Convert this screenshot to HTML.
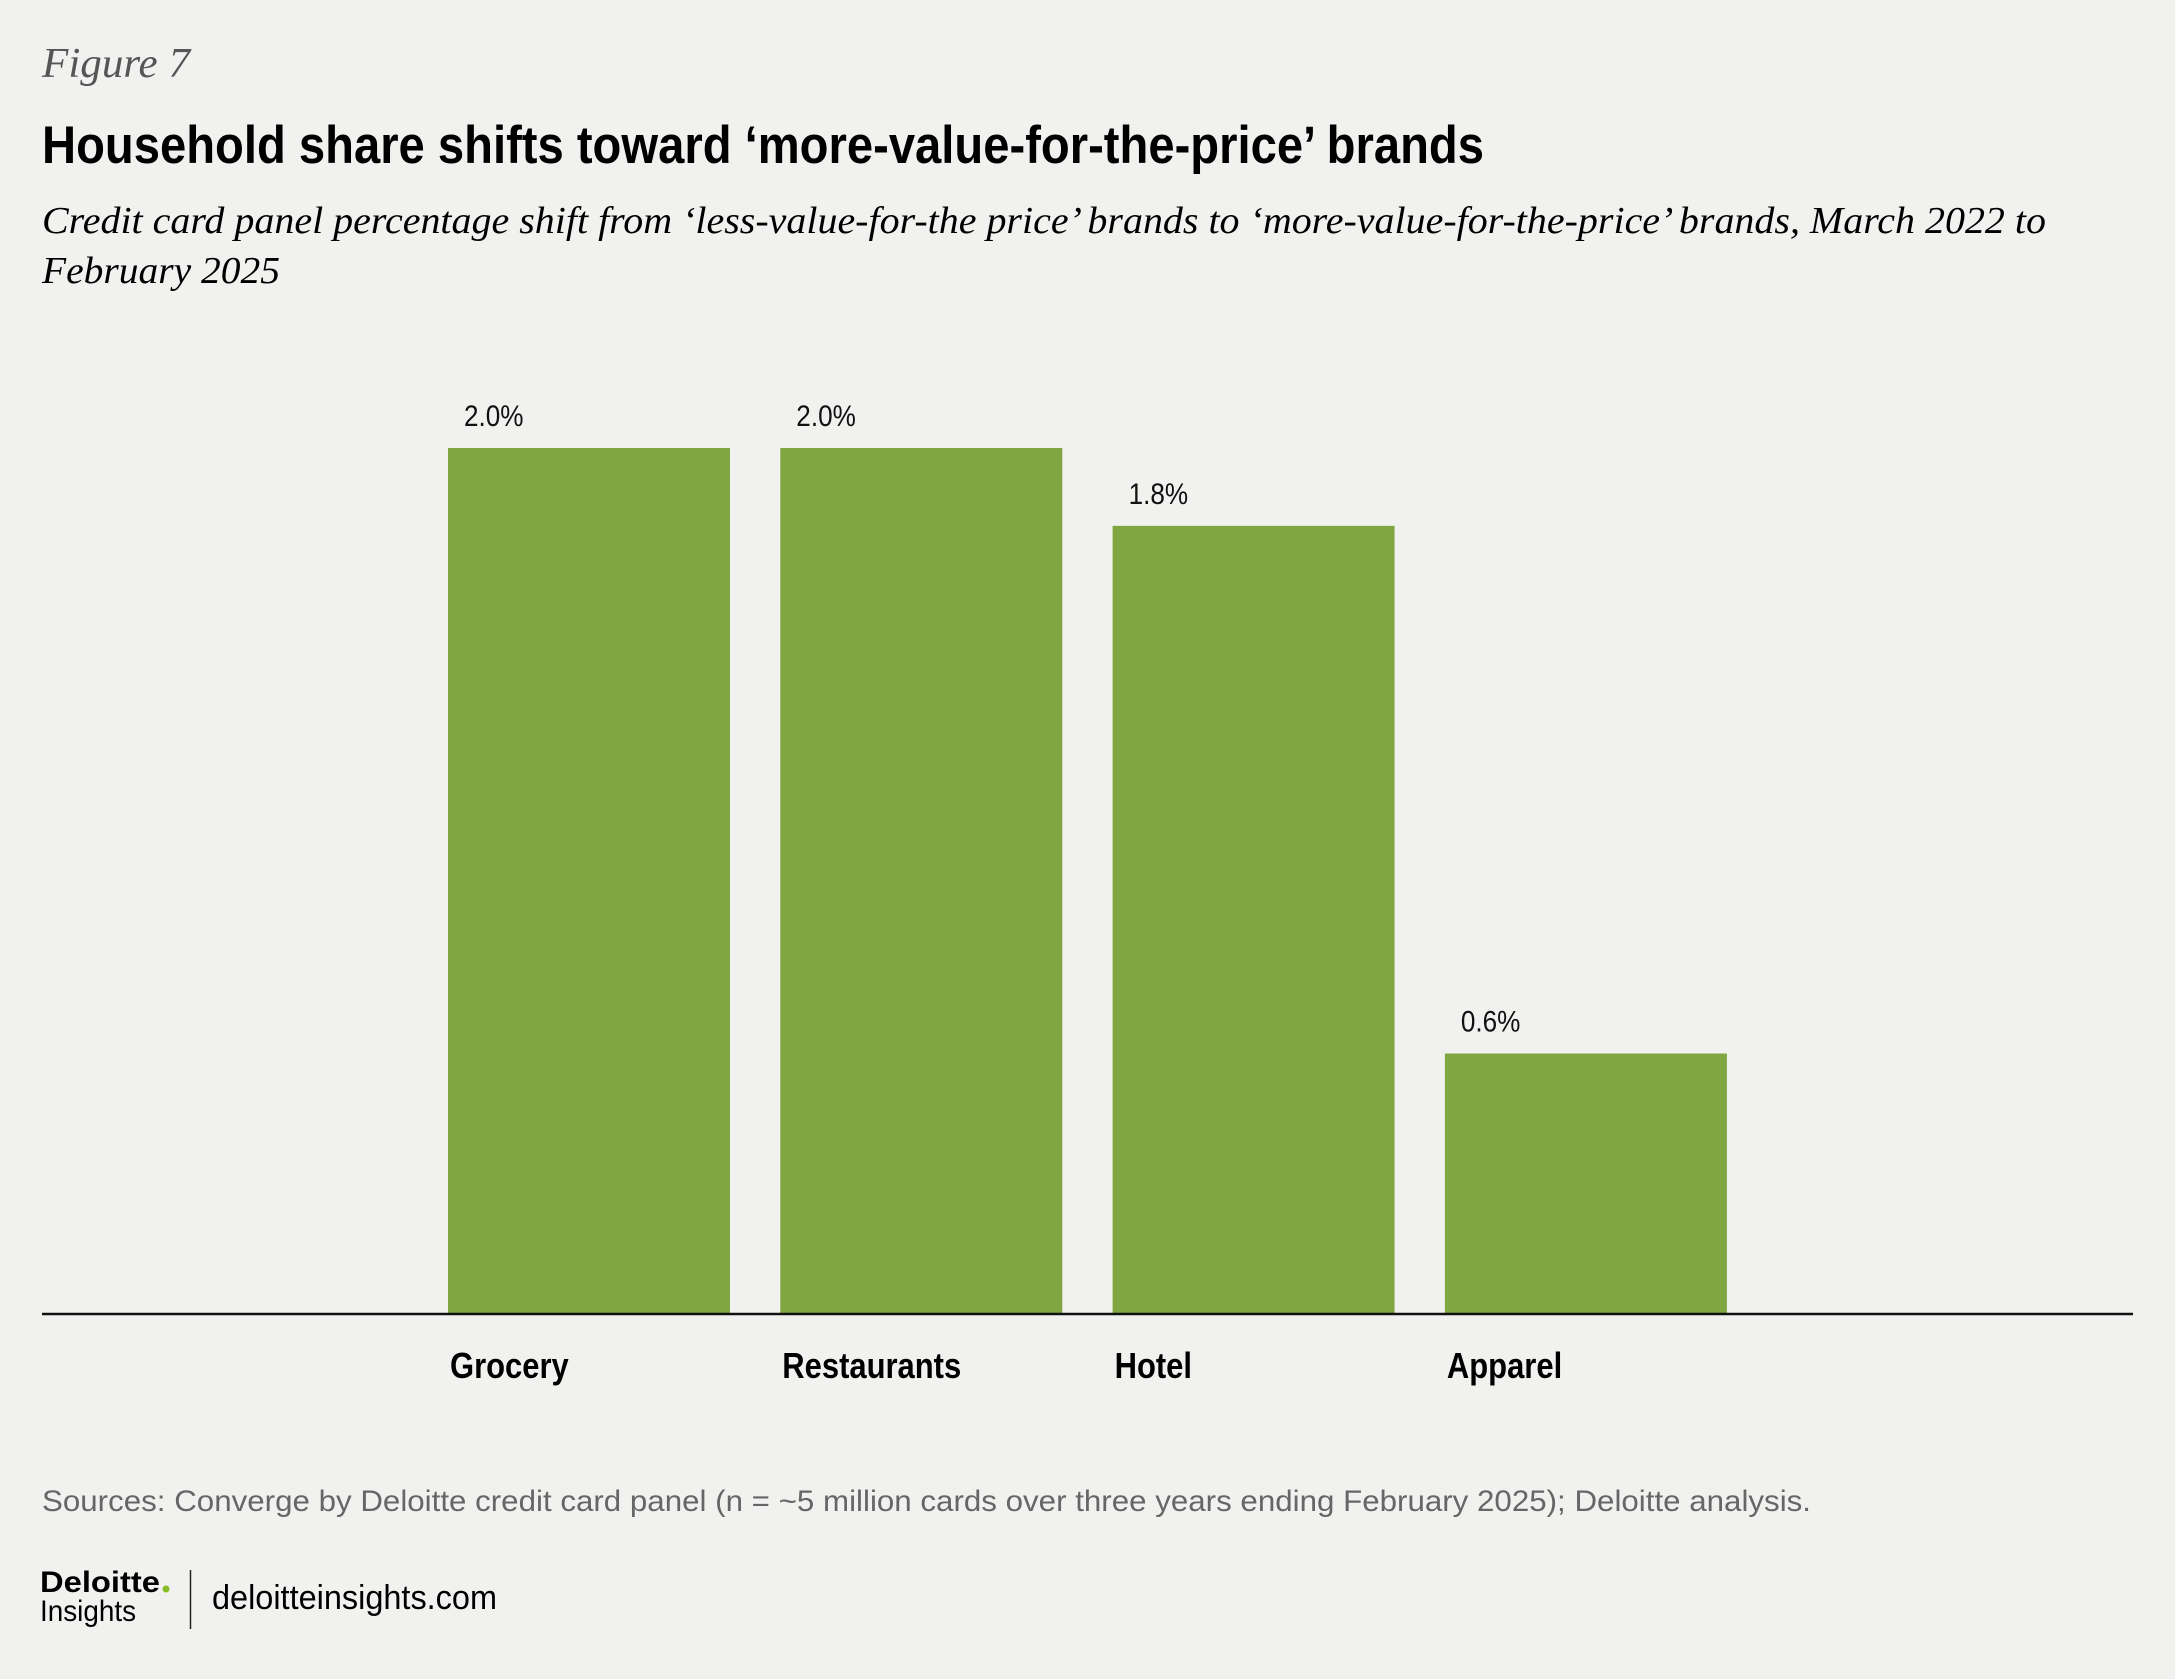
<!DOCTYPE html>
<html><head><meta charset="utf-8"><style>
html,body{margin:0;padding:0;background:#f1f2f0;}
svg{display:block;}
</style></head><body>
<svg id="chart" width="2175" height="1679" viewBox="0 0 2175 1679" xmlns="http://www.w3.org/2000/svg">
<rect width="2175" height="1679" fill="#f1f2f0"/>
<text x="42" y="77" font-family="Liberation Serif, serif" font-style="italic" font-size="42" fill="#555" textLength="148" lengthAdjust="spacingAndGlyphs">Figure 7</text>
<text x="42" y="163" font-family="Liberation Sans Narrow, Liberation Sans, sans-serif" font-weight="bold" font-size="53" fill="#000" textLength="1442" lengthAdjust="spacingAndGlyphs">Household share shifts toward ‘more-value-for-the-price’ brands</text>
<text x="42" y="233" font-family="Liberation Serif, serif" font-style="italic" font-size="38" fill="#000" textLength="2004" lengthAdjust="spacingAndGlyphs">Credit card panel percentage shift from ‘less-value-for-the price’ brands to ‘more-value-for-the-price’ brands, March 2022 to</text>
<text x="42" y="283" font-family="Liberation Serif, serif" font-style="italic" font-size="38" fill="#000" textLength="238" lengthAdjust="spacingAndGlyphs">February 2025</text>
<g id="bars"></g>
<line x1="42" y1="1314" x2="2133" y2="1314" stroke="#111" stroke-width="2.5"/>
<text x="42" y="1511" font-family="Liberation Sans, sans-serif" font-size="30" fill="#666" textLength="1769" lengthAdjust="spacingAndGlyphs">Sources: Converge by Deloitte credit card panel (n = ~5 million cards over three years ending February 2025); Deloitte analysis.</text>
<g>
<text x="40" y="1592" font-family="Liberation Sans, sans-serif" font-weight="bold" font-size="30" fill="#000" textLength="120" lengthAdjust="spacingAndGlyphs">Deloitte</text>
<circle cx="166" cy="1589" r="3.5" fill="#86bc25"/>
<text x="40" y="1621" font-family="Liberation Sans Narrow, Liberation Sans, sans-serif" font-size="30" fill="#000" textLength="96" lengthAdjust="spacingAndGlyphs">Insights</text>
</g>
<line x1="190.5" y1="1570" x2="190.5" y2="1629" stroke="#222" stroke-width="1.5"/>
<text x="212" y="1609" font-family="Liberation Sans, sans-serif" font-size="34" fill="#000" textLength="285" lengthAdjust="spacingAndGlyphs">deloitteinsights.com</text>
</svg>
<script>
const categories = ["Grocery", "Restaurants", "Hotel", "Apparel"];
const values = [2.0, 2.0, 1.82, 0.6];
const valueLabels = ["2.0%", "2.0%", "1.8%", "0.6%"];
const NS = "http://www.w3.org/2000/svg";
const baseY = 1313, pxPerUnit = 432.5;
const firstX = 448, step = 332.3, barW = 282;
function xPos(i){ return firstX + i*step; }
function yPos(v){ return baseY - v*pxPerUnit; }
function squeeze(t, f){
  const w = t.getComputedTextLength();
  t.setAttribute('textLength', (w*f).toFixed(1));
  t.setAttribute('lengthAdjust', 'spacingAndGlyphs');
}
const g = document.getElementById('bars');
categories.forEach((c,i)=>{
  const r = document.createElementNS(NS,'rect');
  r.setAttribute('x', xPos(i));
  r.setAttribute('y', yPos(values[i]));
  r.setAttribute('width', barW);
  r.setAttribute('height', baseY - yPos(values[i]));
  r.setAttribute('fill', '#7fa640');
  
  
  g.appendChild(r);
  const t = document.createElementNS(NS,'text');
  t.setAttribute('x', xPos(i) + 16);
  t.setAttribute('y', yPos(values[i]) - 22);
  t.setAttribute('font-family', 'Liberation Sans, sans-serif');
  t.setAttribute('font-size', '30');
  t.setAttribute('fill', '#111');
  t.textContent = valueLabels[i];
  
  
  g.appendChild(t);
  squeeze(t, 0.87);
  const l = document.createElementNS(NS,'text');
  l.setAttribute('x', xPos(i) + 2);
  l.setAttribute('y', 1378);
  l.setAttribute('font-family', 'Liberation Sans, sans-serif');
  l.setAttribute('font-weight', 'bold');
  l.setAttribute('font-size', '36');
  l.setAttribute('fill', '#000');
  l.textContent = c;
  
  
  g.appendChild(l);
  squeeze(l, 0.86);
});
</script>
</body></html>
